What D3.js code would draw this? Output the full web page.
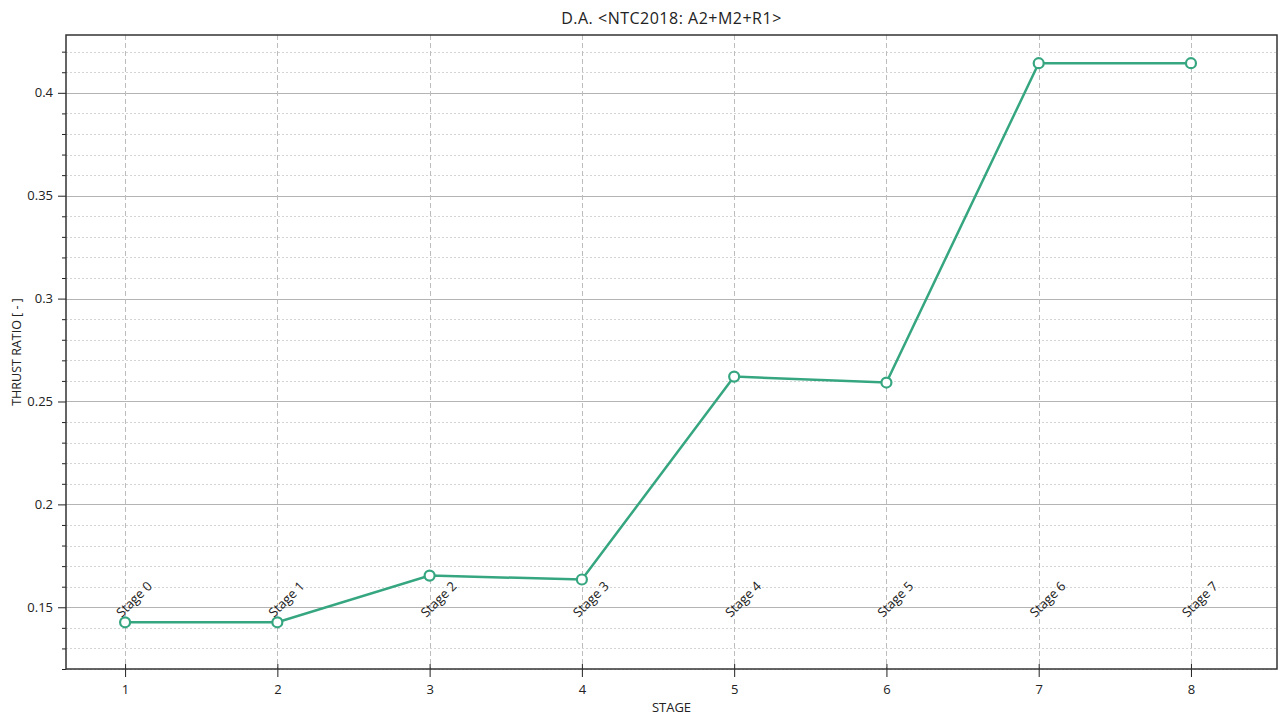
<!DOCTYPE html>
<html><head><meta charset="utf-8">
<script src="https://cdn.jsdelivr.net/npm/d3@7"></script>
<style>
html,body{margin:0;padding:0;background:#fff;}
svg{display:block;font-family:"Segoe UI","Open Sans","Noto Sans",sans-serif;}
</style></head>
<body><svg id="c" width="1279" height="715"></svg>
<script>
const stages = [1,2,3,4,5,6,7,8];
const stageLabels = ["Stage 0","Stage 1","Stage 2","Stage 3","Stage 4","Stage 5","Stage 6","Stage 7"];
const thrustRatio = [0.1427,0.1427,0.1654,0.1635,0.2621,0.2592,0.4144,0.4144];
const yMajorTicks = [0.15,0.2,0.25,0.3,0.35,0.4];
const yMajorLabels = ["0.15","0.2","0.25","0.3","0.35","0.4"];
const yMinorTicks = [0.12,0.13,0.14,0.16,0.17,0.18,0.19,0.21,0.22,0.23,0.24,0.26,0.27,0.28,0.29,0.31,0.32,0.33,0.34,0.36,0.37,0.38,0.39,0.41,0.42];
const title = "D.A. <NTC2018: A2+M2+R1>";
const xTitle = "STAGE";
const yTitle = "THRUST RATIO [ - ]";
const labelLevel = 0.15;

const svg = d3.select("#c");
const L=66, T=35, R=1277, B=669;
const x = d3.scaleLinear().domain([0.612,8.565]).range([L,R]);
const y = d3.scaleLinear().domain([0.12,0.4281]).range([B,T]);
const col = "#35a680";
const FF = '"Segoe UI","Open Sans","Noto Sans",sans-serif';

const g = svg.append("g");
// minor horizontal grid
g.selectAll(".hmin").data(yMinorTicks).join("line")
 .attr("x1",L).attr("x2",R).attr("y1",d=>Math.round(y(d))+0.5).attr("y2",d=>Math.round(y(d))+0.5)
 .attr("stroke","#d4d4d4").attr("stroke-width",1).attr("stroke-dasharray","2,2");
// major horizontal grid
g.selectAll(".hmaj").data(yMajorTicks).join("line")
 .attr("x1",L).attr("x2",R).attr("y1",d=>Math.round(y(d))+0.5).attr("y2",d=>Math.round(y(d))+0.5)
 .attr("stroke","#b4b4b4").attr("stroke-width",1);
// vertical grid
g.selectAll(".vg").data(stages).join("line")
 .attr("x1",d=>Math.round(x(d))+0.5).attr("x2",d=>Math.round(x(d))+0.5).attr("y1",T).attr("y2",B)
 .attr("stroke","#bdbdbd").attr("stroke-width",1).attr("stroke-dasharray","5,3");

// axes
const yAxisMaj = d3.axisLeft(y).tickValues(yMajorTicks).tickFormat((d,i)=>yMajorLabels[i]).tickSize(8).tickPadding(5);
const ya = svg.append("g").attr("transform",`translate(${L},0)`).call(yAxisMaj);
const yAxisMin = d3.axisLeft(y).tickValues(yMinorTicks).tickFormat("").tickSize(4);
const ym = svg.append("g").attr("transform",`translate(${L},0)`).call(yAxisMin);
const xAxis = d3.axisBottom(x).tickValues(stages).tickFormat(d3.format("d")).tickSize(8).tickPadding(8);
const xa = svg.append("g").attr("transform",`translate(0,${B})`).call(xAxis);
[ya,ym,xa].forEach(a=>{
  a.select(".domain").remove();
  a.selectAll(".tick line").attr("stroke","#222");
  a.selectAll("text").attr("font-size","13px").attr("fill","#222").style("font-family",FF);
});
xa.selectAll(".tick line").attr("y1",-5);

// frame
svg.append("rect").attr("x",L).attr("y",T).attr("width",R-L).attr("height",B-T)
 .attr("fill","none").attr("stroke","#333").attr("stroke-width",1.5);

// line
const pts = stages.map((s,i)=>[s,thrustRatio[i]]);
svg.append("path").datum(pts)
 .attr("d",d3.line().x(d=>x(d[0])).y(d=>y(d[1])))
 .attr("fill","none").attr("stroke",col).attr("stroke-width",2.5);
svg.selectAll(".pt").data(pts).join("circle")
 .attr("cx",d=>x(d[0])).attr("cy",d=>y(d[1])).attr("r",5)
 .attr("fill","#fff").attr("stroke",col).attr("stroke-width",2.2);

// stage labels
svg.selectAll(".sl").data(stages).join("text")
 .attr("transform",d=>`translate(${x(d)+9},${y(labelLevel)-8}) rotate(-45)`)
 .attr("text-anchor","middle").attr("dy","0.35em")
 .attr("font-size","13px").attr("fill","#222").style("font-family",FF)
 .text((d,i)=>stageLabels[i]);

// titles
svg.append("text").attr("x",(L+R)/2).attr("y",24).attr("text-anchor","middle")
 .attr("font-size","16px").attr("letter-spacing","0.5px").attr("fill","#222").text(title);
svg.append("text").attr("x",(L+R)/2).attr("y",712).attr("text-anchor","middle")
 .attr("font-size","13px").attr("fill","#222").text(xTitle);
svg.append("text").attr("transform",`translate(21,${(T+B)/2}) rotate(-90)`).attr("text-anchor","middle")
 .attr("font-size","12.5px").attr("fill","#222").text(yTitle);
</script></body></html>
